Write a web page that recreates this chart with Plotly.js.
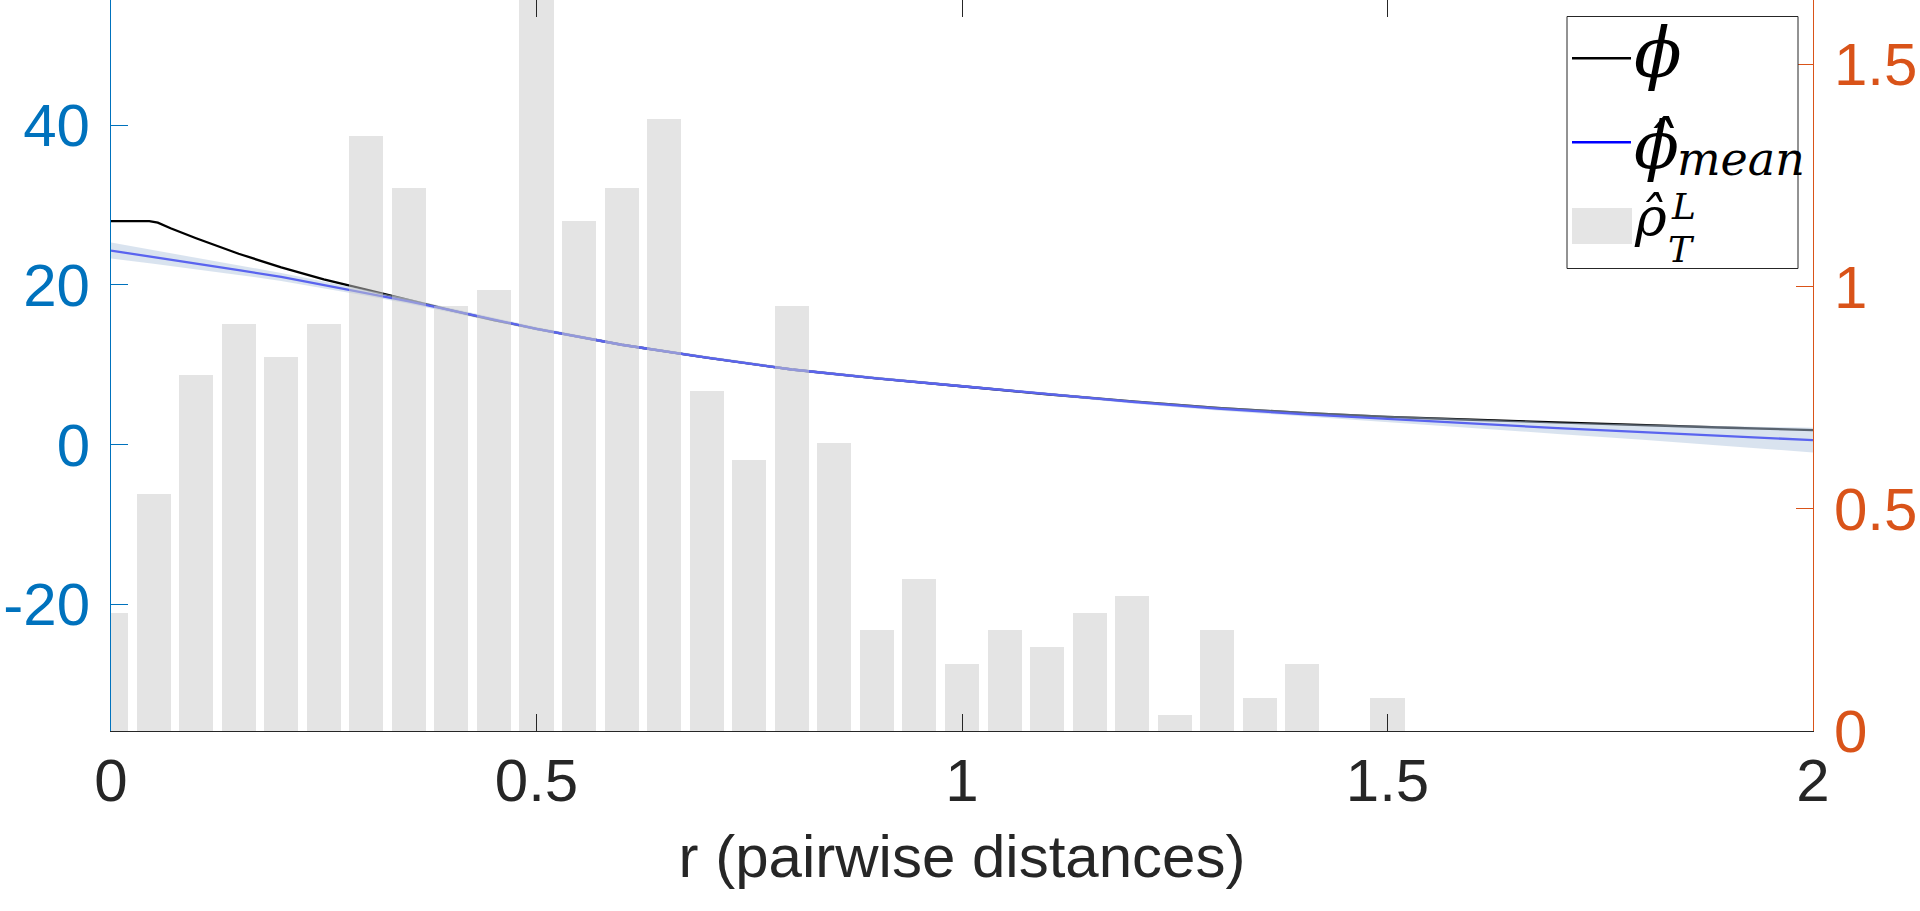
<!DOCTYPE html>
<html>
<head>
<meta charset="utf-8">
<script src="https://cdn.plot.ly/plotly-3.0.1.min.js"></script>
<style>html,body{margin:0;padding:0;background:#fff;}#chart{width:1920px;height:911px;}</style>
</head>
<body>
<div id="chart"></div>
<script>
// ---------------- data ----------------
// histogram of pairwise distances (right axis), bin centres and density
const binCenters = [0, 0.05, 0.1, 0.15, 0.2, 0.25, 0.3, 0.35, 0.4, 0.45, 0.5, 0.55, 0.6, 0.65, 0.7, 0.75,
                    0.8, 0.85, 0.9, 0.95, 1.0, 1.05, 1.1, 1.15, 1.2, 1.25, 1.3, 1.35, 1.4, 1.45, 1.5];
const rhoDensity = [0.265, 0.534, 0.802, 0.917, 0.841, 0.917, 1.338, 1.223, 0.956, 0.993, 2.2, 1.147, 1.223, 1.377, 0.765, 0.610,
                    0.956, 0.648, 0.228, 0.343, 0.151, 0.228, 0.189, 0.266, 0.304, 0.037, 0.228, 0.074, 0.151, 0, 0.074];

// true kernel phi (left axis)
const rPhi    = [0, 0.045, 0.055, 0.07, 0.1, 0.15, 0.2, 0.25, 0.3, 0.35, 0.4, 0.45, 0.5, 0.6, 0.7, 0.8, 0.9, 1.0,
                 1.1, 1.2, 1.3, 1.4, 1.5, 1.6, 1.7, 1.8, 1.9, 2.0];
const phiTrue = [28.0, 28.0, 27.8, 27.1, 25.85, 23.9, 22.2, 20.7, 19.4, 18.1, 16.8, 15.6, 14.5, 12.5, 10.9, 9.4, 8.3, 7.3,
                 6.3, 5.4, 4.6, 3.95, 3.45, 3.1, 2.75, 2.4, 2.1, 1.8];

// estimated mean kernel and its band (left axis)
const rMean   = [0, 0.05, 0.1, 0.15, 0.2, 0.25, 0.3, 0.35, 0.4, 0.45, 0.5, 0.6, 0.7, 0.8, 0.9, 1.0,
                 1.1, 1.2, 1.3, 1.4, 1.5, 1.6, 1.7, 1.8, 1.9, 2.0];
const phiMean = [24.3, 23.5, 22.7, 21.85, 21.0, 20.0, 19.0, 17.95, 16.8, 15.65, 14.5, 12.5, 10.9, 9.4, 8.3, 7.3,
                 6.3, 5.35, 4.5, 3.8, 3.2, 2.6, 2.05, 1.55, 1.05, 0.55];
const phiLower = [23.3, 22.65, 21.98, 21.25, 20.5, 19.58, 18.65, 17.65, 16.54, 15.41, 14.28, 12.3, 10.71, 9.22, 8.12, 7.12,
                  6.11, 5.15, 4.27, 3.5, 2.8, 2.05, 1.33, 0.6, -0.17, -1.0];
const phiUpper = [25.3, 24.35, 23.42, 22.45, 21.5, 20.42, 19.35, 18.25, 17.06, 15.89, 14.72, 12.7, 11.09, 9.58, 8.48, 7.48,
                  6.49, 5.55, 4.73, 4.1, 3.6, 3.15, 2.77, 2.5, 2.27, 2.1];

// axes ticks
const xTickVals  = [0, 0.5, 1, 1.5, 2];
const xTickText  = ['0', '0.5', '1', '1.5', '2'];
const yTickVals  = [-20, 0, 20, 40];
const yTickText  = ['-20', '0', '20', '40'];
const y2TickVals = [0, 0.5, 1, 1.5];
const y2TickText = ['0', '0.5', '1', '1.5'];
const xLabel = 'r (pairwise distances)';

// ---------------- geometry helpers (pixel -> paper) ----------------
const PL = 111, PR = 1813, PT = 0, PB = 731;
const px = v => (v - PL) / (PR - PL);
const py = v => (PB - v) / (PB - PT);

const SANS = 'Liberation Sans, Arial, Helvetica, sans-serif';
const SERIF = 'DejaVu Serif, Liberation Serif, serif';

const traces = [
  { type: 'scatter', mode: 'lines', x: rPhi, y: phiTrue, yaxis: 'y',
    line: { color: '#000000', width: 2.3 }, hoverinfo: 'skip', name: 'phi' },
  { type: 'scatter', mode: 'lines', x: rMean, y: phiMean, yaxis: 'y',
    line: { color: '#0000FF', width: 2.3 }, hoverinfo: 'skip', name: 'phi_mean' },
  { type: 'scatter', mode: 'lines', x: rMean.concat(rMean.slice().reverse()),
    y: phiUpper.concat(phiLower.slice().reverse()), yaxis: 'y',
    fill: 'toself', fillcolor: 'rgba(180,200,224,0.5)', line: { width: 0 }, hoverinfo: 'skip', name: 'band' },
  { type: 'bar', x: binCenters, y: rhoDensity, width: 0.04, xaxis: 'x', yaxis: 'y2',
    marker: { color: 'rgb(203,203,203)', line: { width: 0 } }, opacity: 0.5, hoverinfo: 'skip', name: 'rho' }
];

const legendShapes = [
  { type: 'rect', xref: 'paper', yref: 'paper', x0: px(1567), x1: px(1798), y0: py(16.5), y1: py(268.5),
    line: { color: '#262626', width: 1 }, fillcolor: '#ffffff', layer: 'above' },
  { type: 'line', xref: 'paper', yref: 'paper', x0: px(1572), x1: px(1631), y0: py(58.3), y1: py(58.3),
    line: { color: '#000000', width: 2.6 }, layer: 'above' },
  { type: 'line', xref: 'paper', yref: 'paper', x0: px(1572), x1: px(1631), y0: py(142.3), y1: py(142.3),
    line: { color: '#0000FF', width: 2.6 }, layer: 'above' },
  { type: 'rect', xref: 'paper', yref: 'paper', x0: px(1572), x1: px(1632), y0: py(208), y1: py(244),
    line: { width: 0 }, fillcolor: '#e5e5e5', layer: 'above' }
];

function mathText(t, xPix, yPix, size, anchor) {
  return { xref: 'paper', yref: 'paper', x: px(xPix), y: py(yPix), text: t, showarrow: false,
           xanchor: anchor || 'left', yanchor: 'middle', borderpad: 0,
           font: { family: SERIF, size: size, color: '#000000' } };
}
const legendText = [
  mathText('<i>\u03D5</i>', 1633, 53, 70),
  mathText('<i>\u03D5\u0302</i>', 1633, 146, 66),
  mathText('<i>mean</i>', 1676, 159, 46),
  mathText('<i>\u03C1\u0302</i>', 1633, 218, 54),
  mathText('<i>L</i>', 1670, 206, 36),
  mathText('<i>T</i>', 1667, 249, 36)
];

const layout = {
  width: 1920, height: 911,
  margin: { l: PL, r: 1920 - PR, t: PT, b: 911 - PB, pad: 0 },
  paper_bgcolor: '#ffffff', plot_bgcolor: '#ffffff',
  showlegend: false, bargap: 0, barmode: 'overlay',
  xaxis: {
    range: [0, 2], tickvals: xTickVals, ticktext: xTickText,
    ticks: 'inside', ticklen: 17, tickwidth: 1, tickcolor: '#262626',
    showline: true, linecolor: '#262626', linewidth: 1, mirror: 'ticks',
    showgrid: false, zeroline: false, fixedrange: true,
    tickfont: { family: SANS, size: 60, color: '#262626' }, ticklabelstandoff: -3,
    title: { text: xLabel, font: { family: SANS, size: 60, color: '#262626' }, standoff: 21 }
  },
  yaxis: {
    range: [-35.9, 55.7], tickvals: yTickVals, ticktext: yTickText,
    ticks: 'inside', ticklen: 17, tickwidth: 1, tickcolor: '#0072BD',
    showline: true, linecolor: '#0072BD', linewidth: 1,
    showgrid: false, zeroline: false, fixedrange: true,
    tickfont: { family: SANS, size: 60, color: '#0072BD' }, ticklabelstandoff: 8
  },
  yaxis2: {
    overlaying: 'y', side: 'right', anchor: 'x',
    range: [0, 1.645], tickvals: y2TickVals, ticktext: y2TickText,
    ticks: 'inside', ticklen: 17, tickwidth: 1, tickcolor: '#D95319',
    showline: true, linecolor: '#D95319', linewidth: 1,
    showgrid: false, zeroline: false, fixedrange: true,
    tickfont: { family: SANS, size: 60, color: '#D95319' }, ticklabelstandoff: 8
  },
  shapes: legendShapes,
  annotations: legendText
};

Plotly.newPlot('chart', traces, layout, { displayModeBar: false, staticPlot: true });
</script>
</body>
</html>
